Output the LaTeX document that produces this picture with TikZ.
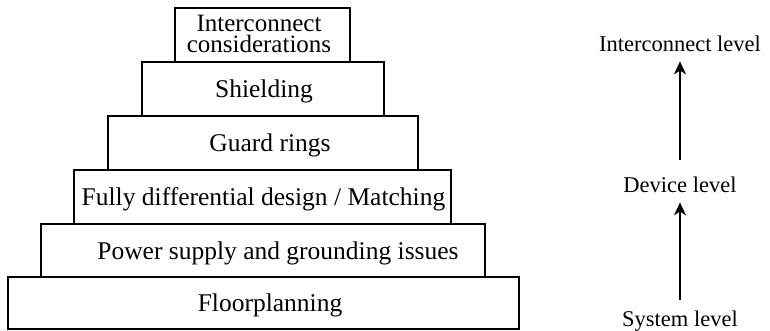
\documentclass[tikz,border=0pt]{standalone}
\usepackage{fontspec}
\setmainfont{Liberation Serif}
\usetikzlibrary{arrows.meta}
\begin{document}
\begin{tikzpicture}[x=1pt,y=-1pt,
  tier/.style={draw, line width=1.6pt, inner sep=0pt},
  tiertext/.style={inner sep=0pt, text height=17pt, text depth=0pt, font=\fontsize{25.5}{20}\selectfont},
  lvl/.style={inner sep=0pt, font=\fontsize{22.5}{24}\selectfont},
  up/.style={line width=1.6pt, -{Stealth[length=13pt,width=12pt,inset=4pt]}}]
\useasboundingbox (0,0) rectangle (770,331);
\node[tier, minimum width=175pt, minimum height=54pt] (b1) at (262.5,35) {};
\node[font=\fontsize{25}{21}\selectfont, align=center, inner sep=0pt, anchor=base] (t1) at (259,52.5) {Interconnect\\considerations};
\node[tier, minimum width=242pt, minimum height=54pt] (b2) at (263,89) {};
\node[tiertext] (t2) at (264,89) {Shielding};
\node[tier, minimum width=310pt, minimum height=54pt] (b3) at (263,143) {};
\node[tiertext] (t3) at (270,143) {Guard rings};
\node[tier, minimum width=377pt, minimum height=54pt] (b4) at (262.5,197) {};
\node[tiertext] (t4) at (263.5,197) {Fully differential design / Matching};
\node[tier, minimum width=444pt, minimum height=53pt] (b5) at (263,250.5) {};
\node[tiertext] (t5) at (278,250.5) {Power supply and grounding issues};
\node[tier, minimum width=511pt, minimum height=52pt] (b6) at (263.5,303) {};
\node[tiertext] (t6) at (270,303) {Floorplanning};
\node[lvl, anchor=base] (il) at (680,52) {Interconnect level};
\node[lvl, anchor=base] (dl) at (680,193) {Device level};
\node[lvl, anchor=north] (sl) at (680,311) {System level};
\draw[up, shorten <=17pt, shorten >=9pt] (dl.north -| il.south) -- (il.south);
\draw[up, shorten <=11pt, shorten >=9pt] (sl.north -| dl.south) -- (dl.south);
\end{tikzpicture}
\end{document}
